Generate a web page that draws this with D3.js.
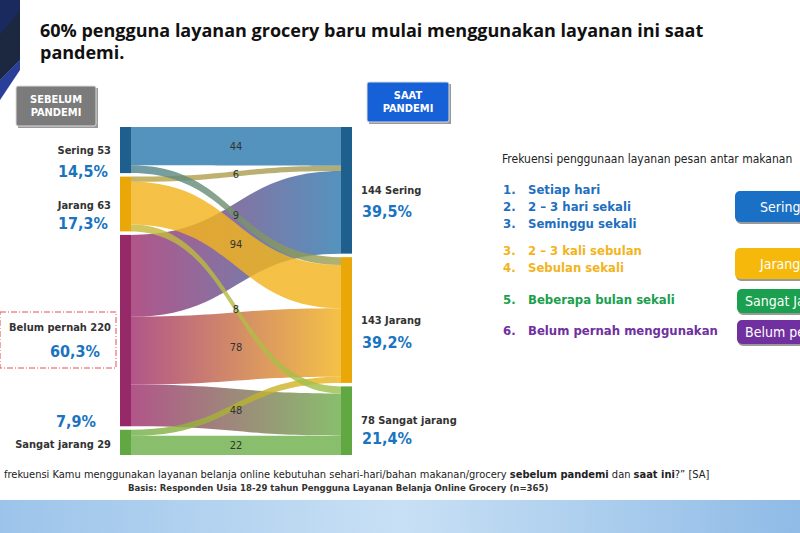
<!DOCTYPE html>
<html><head><meta charset="utf-8">
<script src="https://cdnjs.cloudflare.com/ajax/libs/d3/7.8.5/d3.min.js"></script>
<style>body{margin:0;background:#fff}svg{display:block}</style></head>
<body><svg id="c" width="800" height="533"></svg>
<script>
const sourceNodes = ["Sering","Jarang","Belum pernah","Sangat jarang"];
const sourceTotals = [53,63,220,29];
const sourcePct = ["14,5%","17,3%","60,3%","7,9%"];
const targetNodes = ["Sering","Jarang","Sangat jarang"];
const targetTotals = [144,143,78];
const targetPct = ["39,5%","39,2%","21,4%"];
const linkSource = [0,0,1,1,1,2,2,2,3,3];
const linkTarget = [0,1,0,1,2,0,1,2,1,2];
const linkValue  = [44,9,6,49,8,94,78,48,7,22];
const linkLabel  = ["44","9","6","","8","94","78","48","","22"];
const targetOrder = [[0,2,5],[1,3,6,8],[4,7,9]];
const colors = {"Sering":"#2f7bb0","Jarang":"#f2b41e","Belum pernah":"#a0306f","Sangat jarang":"#6fb04c"};
const nodeColors = {"Sering":"#1f5f8e","Jarang":"#eaa808","Belum pernah":"#962a68","Sangat jarang":"#62a842"};
const COND = "DejaVu Sans Condensed, DejaVu Sans";

const svg = d3.select("#c");
const defs = svg.append("defs");
const fg = defs.append("linearGradient").attr("id","foot").attr("x1",0).attr("x2",1);
fg.append("stop").attr("offset",0).attr("stop-color","#9cc4ea");
fg.append("stop").attr("offset",0.5).attr("stop-color","#c8e0f5");
fg.append("stop").attr("offset",1).attr("stop-color","#8fbbe6");
svg.append("rect").attr("x",0).attr("y",500).attr("width",800).attr("height",33).attr("fill","url(#foot)");
svg.append("path").attr("d","M0,0L20,0L20,60L0,80Z").attr("fill","#1a2a5e");
svg.append("path").attr("d","M0,80L20,60L20,10L0,35Z").attr("fill","#1c2740");
svg.append("path").attr("d","M0,80L20,60L20,70L0,100Z").attr("fill","#2a3f9a");

svg.append("text").attr("x",40).attr("y",37).attr("font-family","Open Sans").attr("font-weight","bold").attr("font-size",18).attr("fill","#111").text("60% pengguna layanan grocery baru mulai menggunakan layanan ini saat");
svg.append("text").attr("x",40).attr("y",59).attr("font-family","Open Sans").attr("font-weight","bold").attr("font-size",18).attr("fill","#111").text("pandemi.");

function hbox(x,y,w,h,fill,lines){
  svg.append("rect").attr("x",x+2).attr("y",y+2).attr("width",w).attr("height",h).attr("fill","#555").attr("opacity",0.6);
  svg.append("rect").attr("x",x).attr("y",y).attr("width",w).attr("height",h).attr("fill",fill).attr("stroke","#ddd").attr("rx",2);
  lines.forEach((t,i)=>svg.append("text").attr("x",x+w/2).attr("y",y+h/2-3+i*13).attr("text-anchor","middle").attr("font-family",COND).attr("font-weight","bold").attr("font-size",11).attr("fill","#fff").text(t));
}
hbox(16,86,80,40,"#7b7b7b",["SEBELUM","PANDEMI"]);
hbox(367,82,82,40,"#1660d8",["SAAT","PANDEMI"]);

const total = d3.sum(sourceTotals);
const gap = 3.5, yTop = 127, yBottom = 455;
const yL = d3.scaleLinear().domain([0,total]).range([0,yBottom-yTop-gap*(sourceNodes.length-1)]);
const yR = d3.scaleLinear().domain([0,total]).range([0,yBottom-yTop-gap*(targetNodes.length-1)]);
const xL0=120,xL1=131,xR0=341,xR1=352;
let acc=0; const sPos=sourceTotals.map((v,i)=>{const y0=yTop+yL(acc)+i*gap; acc+=v; return [y0,y0+yL(v)];});
acc=0; const tPos=targetTotals.map((v,i)=>{const y0=yTop+yR(acc)+i*gap; acc+=v; return [y0,y0+yR(v)];});
const links = linkValue.map((v,i)=>({s:linkSource[i],t:linkTarget[i],v,label:linkLabel[i]}));
const sOff=sPos.map(p=>p[0]);
links.forEach(l=>{l.sy0=sOff[l.s]; l.sy1=l.sy0+yL(l.v); sOff[l.s]=l.sy1;});
targetOrder.forEach((ord,t)=>{let o=tPos[t][0]; ord.forEach(i=>{links[i].ty0=o; links[i].ty1=o+yR(links[i].v); o=links[i].ty1;});});

const drawOrder=[0,5,6,7,9,8,3,2,1,4];
drawOrder.forEach(i=>{
  const l=links[i];
  const g=defs.append("linearGradient").attr("id","g"+i).attr("gradientUnits","userSpaceOnUse").attr("x1",xL1).attr("x2",xR0).attr("y1",0).attr("y2",0);
  let sc=colors[sourceNodes[l.s]], tc=colors[targetNodes[l.t]];
  if(i===4){sc="#c9b83a";tc="#9cc04e";}
  if(i===2){sc="#b9a447";tc="#a09a5a";}
  if(i===1){sc="#4d8590";tc="#a0a04c";}
  g.append("stop").attr("offset",0).attr("stop-color",sc);
  g.append("stop").attr("offset",1).attr("stop-color",tc);
  const xm=(xL1+xR0)/2;
  const d=`M${xL1},${l.sy0}C${xm},${l.sy0} ${xm},${l.ty0} ${xR0},${l.ty0}L${xR0},${l.ty1}C${xm},${l.ty1} ${xm},${l.sy1} ${xL1},${l.sy1}Z`;
  svg.append("path").attr("d",d).attr("fill",`url(#g${i})`).attr("opacity",0.82);
});
links.forEach(l=>{ if(!l.label) return;
  const ym=((l.sy0+l.sy1)/2+(l.ty0+l.ty1)/2)/2;
  svg.append("text").attr("x",236).attr("y",ym+4).attr("text-anchor","middle").attr("font-family",COND).attr("font-size",11).attr("fill","#333").text(l.label);
});
sPos.forEach((p,i)=>svg.append("rect").attr("x",xL0).attr("y",p[0]).attr("width",xL1-xL0).attr("height",p[1]-p[0]).attr("fill",nodeColors[sourceNodes[i]]));
tPos.forEach((p,i)=>svg.append("rect").attr("x",xR0).attr("y",p[0]).attr("width",xR1-xR0).attr("height",p[1]-p[0]).attr("fill",nodeColors[targetNodes[i]]));

const lab=(x,y,t,anchor,size,color,bold,fam)=>svg.append("text").attr("x",x).attr("y",y).attr("text-anchor",anchor).attr("font-family",fam||COND).attr("font-weight",bold?"bold":"normal").attr("font-size",size).attr("fill",color).text(t);
const leftNameY=[154,209,331,448], leftPctY=[177,229,357,427];
const leftPctX=[108,108,100,96];
sourceNodes.forEach((n,i)=>{
  lab(111,leftNameY[i],n+" "+sourceTotals[i],"end",11,"#333",true);
  lab(leftPctX[i],leftPctY[i],sourcePct[i],"end",16,"#1a74c0",true);
});
svg.append("rect").attr("x",0).attr("y",312).attr("width",116).attr("height",56).attr("fill","none").attr("stroke","#e05050").attr("stroke-dasharray","6,2,1,2");
const rightNameY=[194,324,424], rightPctY=[217,348,444];
targetNodes.forEach((n,i)=>{
  lab(361,rightNameY[i],targetTotals[i]+" "+n,"start",11,"#333",true);
  lab(362,rightPctY[i],targetPct[i],"start",16,"#1a74c0",true);
});

lab(502,163,"Frekuensi penggunaan layanan pesan antar makanan","start",12,"#222",false);
const legItems=[["1.","Setiap hari",194,"#1f6fbf"],["2.","2 – 3 hari sekali",211,"#1f6fbf"],["3.","Seminggu sekali",228,"#1f6fbf"],["3.","2 – 3 kali sebulan",255,"#f2b41e"],["4.","Sebulan sekali",272,"#f2b41e"],["5.","Beberapa bulan sekali",304,"#1aa04e"],["6.","Belum pernah menggunakan",335,"#7030a0"]];
legItems.forEach(d=>{lab(503,d[2],d[0],"start",13,d[3],true);lab(528,d[2],d[1],"start",13,d[3],true);});
const boxes=[[735,191,"#1a70c4","Sering"],[735,248,"#f7b80c","Jarang"],[737,289,"#1aa04e","Sangat Jarang"],[737,320,"#7030a0","Belum pernah"]];
boxes.forEach((b,i)=>{const h=i<2?31:24;
  svg.append("rect").attr("x",b[0]+1).attr("y",b[1]+2).attr("width",120).attr("height",h).attr("rx",5).attr("fill","#999");
  svg.append("rect").attr("x",b[0]).attr("y",b[1]).attr("width",120).attr("height",h).attr("rx",5).attr("fill",b[2]);
  lab(i<2?b[0]+25:b[0]+8,b[1]+h/2+5,b[3],"start",14,"#fff",false);
});

const ft=svg.append("text").attr("x",4).attr("y",478).attr("font-family",COND).attr("font-size",11).attr("fill","#222");
ft.append("tspan").text("frekuensi Kamu menggunakan layanan belanja online kebutuhan sehari-hari/bahan makanan/grocery ");
ft.append("tspan").attr("font-weight","bold").text("sebelum pandemi");
ft.append("tspan").text(" dan ");
ft.append("tspan").attr("font-weight","bold").text("saat ini");
ft.append("tspan").text("?” [SA]");
lab(128,491,"Basis: Responden Usia 18-29 tahun Pengguna Layanan Belanja Online Grocery (n=365)","start",9.5,"#333",true);
</script></body></html>
